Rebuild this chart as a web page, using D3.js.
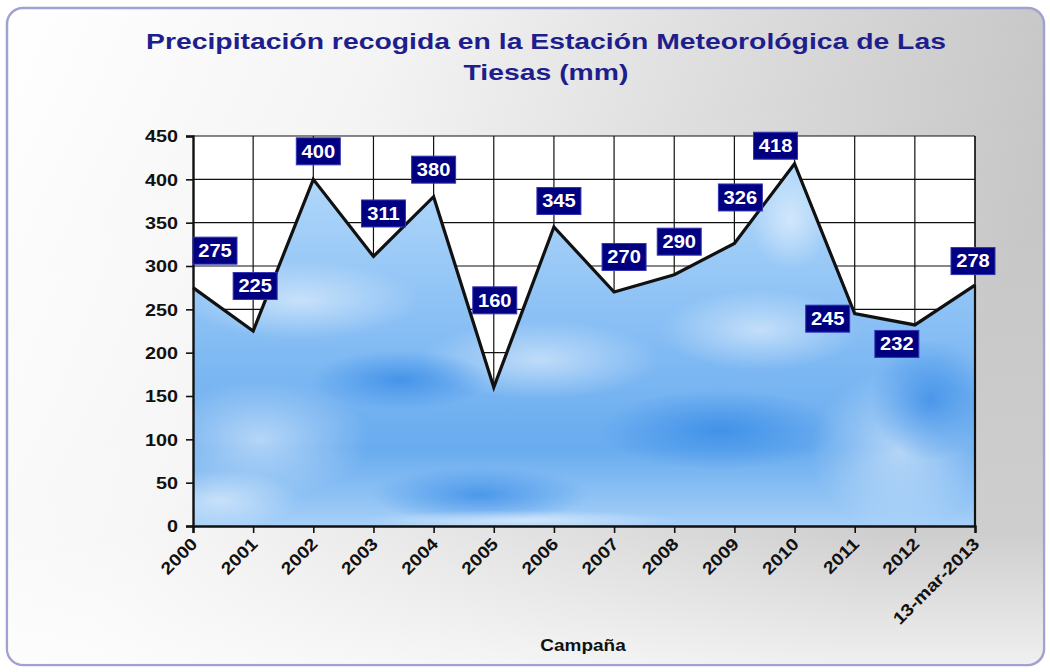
<!DOCTYPE html>
<html><head><meta charset="utf-8">
<script src="https://cdn.jsdelivr.net/npm/d3@7"></script>
<style>html,body{margin:0;padding:0;background:#fff;}svg{display:block;}</style>
</head><body>
<svg id="chart" width="1050" height="672"></svg>
<script>
const categories = ["2000","2001","2002","2003","2004","2005","2006","2007","2008","2009","2010","2011","2012","13-mar-2013"];
const values = [275,225,400,311,380,160,345,270,290,326,418,245,232,278];
const yTicks = [0,50,100,150,200,250,300,350,400,450];
const titleLines = ["Precipitación recogida en la Estación Meteorológica de Las","Tiesas (mm)"];
const xTitle = "Campaña";
// label offsets (layout) relative to each point, in px
const labelOffsets = [[22,-37],[2,-45],[5,-28],[10,-43],[0,-27],[1,-87],[5,-26],[10,-35],[5,-33],[6,-46],[-19,-18],[-27,5],[-18,19],[-2,-24]];

const FONT = "Liberation Sans, Arial, sans-serif";
const svg = d3.select("#chart");
const defs = svg.append("defs");

// background gradient
const bg = defs.append("linearGradient").attr("id","bg").attr("x1","0").attr("y1","0").attr("x2","1").attr("y2","0.3");
bg.append("stop").attr("offset","0").attr("stop-color","#ffffff");
bg.append("stop").attr("offset","0.35").attr("stop-color","#f4f4f4");
bg.append("stop").attr("offset","1").attr("stop-color","#c2c2c2");
const bg2 = defs.append("linearGradient").attr("id","bg2").attr("x1","0").attr("y1","0").attr("x2","0").attr("y2","1");
bg2.append("stop").attr("offset","0").attr("stop-color","#ffffff").attr("stop-opacity",0);
bg2.append("stop").attr("offset","0.8").attr("stop-color","#ffffff").attr("stop-opacity",0.2);
bg2.append("stop").attr("offset","1").attr("stop-color","#ffffff").attr("stop-opacity",0.75);

svg.append("rect").attr("x",7).attr("y",8).attr("width",1037).attr("height",657).attr("rx",16)
  .attr("fill","url(#bg)").attr("stroke","#a2a2d0").attr("stroke-width",2.5);
svg.append("rect").attr("x",8).attr("y",9).attr("width",1035).attr("height",655).attr("rx",16)
  .attr("fill","url(#bg2)");

// sky gradient
const sky = defs.append("linearGradient").attr("id","sky").attr("x1","0").attr("y1","0").attr("x2","0").attr("y2","1");
sky.append("stop").attr("offset","0").attr("stop-color","#bcdefb");
sky.append("stop").attr("offset","0.45").attr("stop-color","#8cc1f5");
sky.append("stop").attr("offset","0.8").attr("stop-color","#68abef");
sky.append("stop").attr("offset","1").attr("stop-color","#a6d0f8");
const cloud = defs.append("radialGradient").attr("id","cloud");
cloud.append("stop").attr("offset","0").attr("stop-color","#ffffff").attr("stop-opacity",0.5);
cloud.append("stop").attr("offset","1").attr("stop-color","#ffffff").attr("stop-opacity",0);
const deep = defs.append("radialGradient").attr("id","deep");
deep.append("stop").attr("offset","0").attr("stop-color","#2f86e6").attr("stop-opacity",0.7);
deep.append("stop").attr("offset","1").attr("stop-color","#2f86e6").attr("stop-opacity",0);

const m = {l:193, r:975, t:136, b:526};
const x = d3.scalePoint().domain(categories).range([m.l, m.r]);
const y = d3.scaleLinear().domain([0,450]).range([m.b, m.t]);

// plot background
svg.append("rect").attr("x",m.l).attr("y",m.t).attr("width",m.r-m.l).attr("height",m.b-m.t).attr("fill","#ffffff");

// gridlines (under the area)
svg.append("g").selectAll("line").data(yTicks.filter(t=>t>0)).join("line")
  .attr("x1",m.l).attr("x2",m.r).attr("y1",d=>y(d)).attr("y2",d=>y(d))
  .attr("stroke","#111").attr("stroke-width",1.2);
svg.append("g").selectAll("line").data(categories.slice(1)).join("line")
  .attr("x1",d=>x(d)).attr("x2",d=>x(d)).attr("y1",m.t).attr("y2",m.b)
  .attr("stroke","#111").attr("stroke-width",1.2);

// area
const data = categories.map((c,i)=>({c, v: values[i]}));
const area = d3.area().x(d=>x(d.c)).y0(y(0)).y1(d=>y(d.v));
defs.append("clipPath").attr("id","areaClip").append("path").attr("d", area(data));
const g = svg.append("g").attr("clip-path","url(#areaClip)");
g.append("rect").attr("x",m.l).attr("y",m.t).attr("width",m.r-m.l).attr("height",m.b-m.t).attr("fill","url(#sky)");
const blobs = [
  {cx:260,cy:440,rx:110,ry:60,f:"cloud"},{cx:300,cy:300,rx:120,ry:40,f:"cloud"},
  {cx:540,cy:360,rx:120,ry:40,f:"cloud"},{cx:760,cy:330,rx:100,ry:40,f:"cloud"},
  {cx:900,cy:450,rx:90,ry:80,f:"cloud"},{cx:220,cy:500,rx:80,ry:30,f:"cloud"},
  {cx:480,cy:495,rx:110,ry:28,f:"deep"},{cx:720,cy:430,rx:120,ry:40,f:"deep"},
  {cx:400,cy:380,rx:90,ry:30,f:"deep"},{cx:930,cy:400,rx:60,ry:60,f:"deep"},
  {cx:520,cy:520,rx:160,ry:10,f:"cloud"},{cx:790,cy:220,rx:40,ry:50,f:"cloud"}
];
g.selectAll("ellipse").data(blobs).join("ellipse")
  .attr("cx",d=>d.cx).attr("cy",d=>d.cy).attr("rx",d=>d.rx).attr("ry",d=>d.ry)
  .attr("fill",d=>`url(#${d.f})`);

// line
svg.append("path").attr("d", d3.line().x(d=>x(d.c)).y(d=>y(d.v))(data))
  .attr("fill","none").attr("stroke","#111").attr("stroke-width",3.2).attr("stroke-linejoin","miter");
// right edge
svg.append("line").attr("x1",m.r).attr("x2",m.r).attr("y1",m.t).attr("y2",m.b)
  .attr("stroke","#111").attr("stroke-width",1.2);
svg.append("line").attr("x1",m.r).attr("x2",m.r).attr("y1",y(values[values.length-1])).attr("y2",m.b)
  .attr("stroke","#111").attr("stroke-width",2.2);

// axes
const yAxis = svg.append("g").attr("transform",`translate(${m.l},0)`)
  .call(d3.axisLeft(y).tickValues(yTicks).tickSize(7).tickPadding(8));
const xAxis = svg.append("g").attr("transform",`translate(0,${m.b})`)
  .call(d3.axisBottom(x).tickSize(7).tickPadding(4));
[yAxis,xAxis].forEach(a=>{
  a.select(".domain").attr("stroke","#111").attr("stroke-width",2.4);
  a.selectAll(".tick line").attr("stroke","#111").attr("stroke-width",1.6);
  a.selectAll("text").attr("font-family",FONT).attr("font-weight","bold").attr("fill","#111");
});
yAxis.selectAll(".tick text").attr("font-size",16.5).attr("x",0).attr("dy","0.36em")
  .attr("transform","translate(-15,0) scale(1.2,1)");
xAxis.selectAll(".tick text").attr("text-anchor","end").attr("dy",0).attr("y",0).attr("x",0)
  .attr("font-size",17).attr("transform","translate(5,19) rotate(-45) scale(1.15,1)");

// titles
svg.append("g").selectAll("text").data(titleLines).join("text")
  .attr("transform",(d,i)=>`translate(546,${49+i*31}) scale(1.26,1)`).attr("text-anchor","middle")
  .attr("font-family",FONT).attr("font-weight","bold")
  .attr("font-size",22.5).attr("fill","#1e1e8c").text(d=>d);
svg.append("text").attr("transform","translate(583,651) scale(1.15,1)").attr("text-anchor","middle")
  .attr("font-family",FONT).attr("font-weight","bold")
  .attr("font-size",16.5).attr("fill","#111").text(xTitle);

// data labels
const lab = svg.append("g").selectAll("g").data(data).join("g")
  .attr("transform",(d,i)=>`translate(${x(d.c)+labelOffsets[i][0]},${y(d.v)+labelOffsets[i][1]})`);
lab.append("rect").attr("x",-22).attr("y",-13.5).attr("width",44).attr("height",27)
  .attr("fill","#000080").attr("stroke","#3434b4").attr("stroke-width",1);
lab.append("text").attr("text-anchor","middle").attr("dy","0.36em")
  .attr("transform","scale(1.15,1)")
  .attr("font-family",FONT).attr("font-weight","bold")
  .attr("font-size",17.5).attr("fill","#fff").text(d=>d.v);
</script>
</body></html>
